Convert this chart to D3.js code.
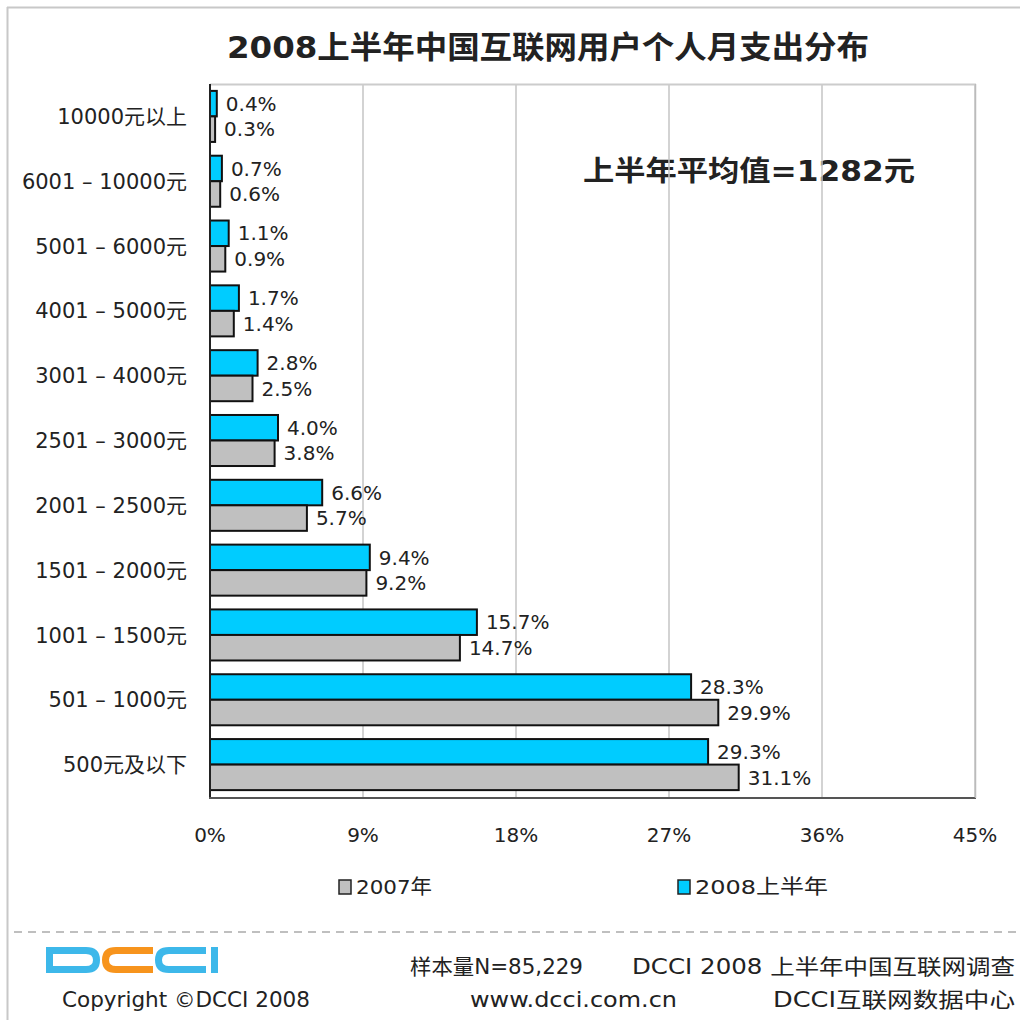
<!DOCTYPE html>
<html>
<head>
<meta charset="utf-8">
<script src="https://cdn.jsdelivr.net/npm/d3@7"></script>
<style>
  body { margin: 0; background: #fff; }
  text { font-family: "DejaVu Sans", "Noto Sans CJK SC", sans-serif; fill: #222; }
</style>
</head>
<body>
<svg id="chart" width="1020" height="1023"></svg>
<script>
// chart data
var categories = ["10000元以上", "6001 – 10000元", "5001 – 6000元", "4001 – 5000元",
                  "3001 – 4000元", "2501 – 3000元", "2001 – 2500元", "1501 – 2000元",
                  "1001 – 1500元", "501 – 1000元", "500元及以下"];
var values2008 = [0.4, 0.7, 1.1, 1.7, 2.8, 4.0, 6.6, 9.4, 15.7, 28.3, 29.3];
var values2007 = [0.3, 0.6, 0.9, 1.4, 2.5, 3.8, 5.7, 9.2, 14.7, 29.9, 31.1];
var seriesNames = ["2008上半年", "2007年"];
var seriesColors = ["#00CCFF", "#C0C0C0"];
var xTicks = [0, 9, 18, 27, 36, 45];
var title = "2008上半年中国互联网用户个人月支出分布";
var note = "上半年平均值=1282元";

var svg = d3.select('#chart');

//outer frame
svg.append('line').attr('x1', 7).attr('x2', 1020).attr('y1', 7.5).attr('y2', 7.5)
   .attr('stroke', '#c8c8c8').attr('stroke-width', 2);
svg.append('line').attr('x1', 7.5).attr('x2', 7.5).attr('y1', 7).attr('y2', 1020)
   .attr('stroke', '#c8c8c8').attr('stroke-width', 2);

//scales
var x = d3.scaleLinear().domain([0, 45]).range([210, 975]);
var y = d3.scaleBand().domain(categories).range([84, 797]);
var ySub = d3.scaleBand().domain(seriesNames).range([0, y.bandwidth()]).paddingOuter(0.27);

//title + note
svg.append('text').attr('x', 548).attr('y', 58).attr('text-anchor', 'middle')
   .attr('font-size', 31).attr('font-weight', 'bold')
   .attr('textLength', 642).attr('lengthAdjust', 'spacingAndGlyphs').text(title);
svg.append('text').attr('x', 583).attr('y', 181)
   .attr('font-size', 28).attr('font-weight', 'bold')
   .attr('textLength', 332).attr('lengthAdjust', 'spacingAndGlyphs').text(note);

//grid lines
svg.append('g').selectAll('line').data(xTicks.slice(1)).join('line')
   .attr('x1', function(d){ return x(d); }).attr('x2', function(d){ return x(d); })
   .attr('y1', 84).attr('y2', 797)
   .attr('stroke', '#c4c4c4').attr('stroke-width', 1.5);
svg.append('line').attr('x1', 210).attr('x2', 976).attr('y1', 84.5).attr('y2', 84.5)
   .attr('stroke', '#cccccc').attr('stroke-width', 2);

//bars
var rows = categories.map(function(c, i){
    return { cat: c, vals: [values2008[i], values2007[i]] };
});
var grp = svg.append('g').selectAll('g').data(rows).join('g')
   .attr('transform', function(d){ return 'translate(0,' + y(d.cat) + ')'; });

grp.selectAll('rect').data(function(d){
        return d.vals.map(function(v, j){ return { s: seriesNames[j], v: v, c: seriesColors[j] }; });
    }).join('rect')
   .attr('x', x(0))
   .attr('y', function(d){ return ySub(d.s); })
   .attr('width', function(d){ return x(d.v) - x(0); })
   .attr('height', ySub.bandwidth())
   .attr('fill', function(d){ return d.c; })
   .attr('stroke', '#111').attr('stroke-width', 2);

grp.selectAll('text.val').data(function(d){
        return d.vals.map(function(v, j){ return { s: seriesNames[j], v: v }; });
    }).join('text')
   .attr('class', 'val')
   .attr('x', function(d){ return x(d.v) + 9; })
   .attr('y', function(d){ return ySub(d.s) + ySub.bandwidth() / 2; })
   .attr('dy', '0.36em')
   .attr('font-size', 20)
   .text(function(d){ return d3.format('.1f')(d.v) + '%'; });

//category labels
svg.append('g').selectAll('text').data(categories).join('text')
   .attr('x', 187)
   .attr('y', function(d){ return y(d) + y.bandwidth() / 2; })
   .attr('dy', '0.36em')
   .attr('text-anchor', 'end')
   .attr('font-size', 21)
   .text(function(d){ return d; });

//axes lines
svg.append('line').attr('x1', 210).attr('x2', 210).attr('y1', 84).attr('y2', 799)
   .attr('stroke', '#222').attr('stroke-width', 2);
svg.append('line').attr('x1', 209).attr('x2', 976).attr('y1', 798).attr('y2', 798)
   .attr('stroke', '#555').attr('stroke-width', 2);
svg.append('line').attr('x1', 975.5).attr('x2', 975.5).attr('y1', 84).attr('y2', 798)
   .attr('stroke', '#bbbbbb').attr('stroke-width', 1.5);

//tick labels
svg.append('g').selectAll('text').data(xTicks).join('text')
   .attr('x', function(d){ return x(d); })
   .attr('y', 842)
   .attr('text-anchor', 'middle')
   .attr('font-size', 20)
   .text(function(d){ return d + '%'; });

//legend
var legendItems = [
    { name: seriesNames[1], color: seriesColors[1], x: 339, w: 76 },
    { name: seriesNames[0], color: seriesColors[0], x: 678, w: 133 }
];
var lg = svg.append('g').selectAll('g').data(legendItems).join('g')
   .attr('transform', function(d){ return 'translate(' + d.x + ',880)'; });
lg.append('rect').attr('width', 12).attr('height', 14)
   .attr('fill', function(d){ return d.color; })
   .attr('stroke', '#222').attr('stroke-width', 1.5);
lg.append('text').attr('x', 17).attr('y', 14).attr('font-size', 20)
   .attr('textLength', function(d){ return d.w; })
   .attr('lengthAdjust', 'spacingAndGlyphs')
   .text(function(d){ return d.name; });

//footer
svg.append('line').attr('x1', 14).attr('x2', 1020).attr('y1', 932).attr('y2', 932)
   .attr('stroke', '#aaaaaa').attr('stroke-width', 1.5).attr('stroke-dasharray', '8,6');

var footer = [
    { t: '样本量N=85,229',                  x: 410, y: 974, w: 173 },
    { t: 'DCCI 2008 上半年中国互联网调查',   x: 632, y: 974, w: 383 },
    { t: 'Copyright ©DCCI 2008',            x: 62,  y: 1007, w: 248 },
    { t: 'www.dcci.com.cn',                 x: 470, y: 1007, w: 207 },
    { t: 'DCCI互联网数据中心',               x: 773, y: 1007, w: 242 }
];
svg.append('g').selectAll('text').data(footer).join('text')
   .attr('x', function(d){ return d.x; })
   .attr('y', function(d){ return d.y; })
   .attr('font-size', 21)
   .attr('textLength', function(d){ return d.w; })
   .attr('lengthAdjust', 'spacingAndGlyphs')
   .text(function(d){ return d.t; });

//DCCI logo
var logo = svg.append('g').attr('fill', 'none').attr('stroke-width', 7);
logo.append('path').attr('stroke', '#3db8ea')
   .attr('d', 'M49.5,950.5 H86 Q96.5,950.5 96.5,960 V960 Q96.5,969.5 86,969.5 H49.5 Z');
logo.append('path').attr('stroke', '#f7941d')
   .attr('d', 'M153,950.5 H116 Q105.5,950.5 105.5,960 Q105.5,969.5 116,969.5 H153');
logo.append('path').attr('stroke', '#3db8ea')
   .attr('d', 'M206,950.5 H169 Q158.5,950.5 158.5,960 Q158.5,969.5 169,969.5 H206');
logo.append('line').attr('stroke', '#3db8ea')
   .attr('x1', 214.5).attr('x2', 214.5).attr('y1', 947).attr('y2', 973);
</script>
</body>
</html>
